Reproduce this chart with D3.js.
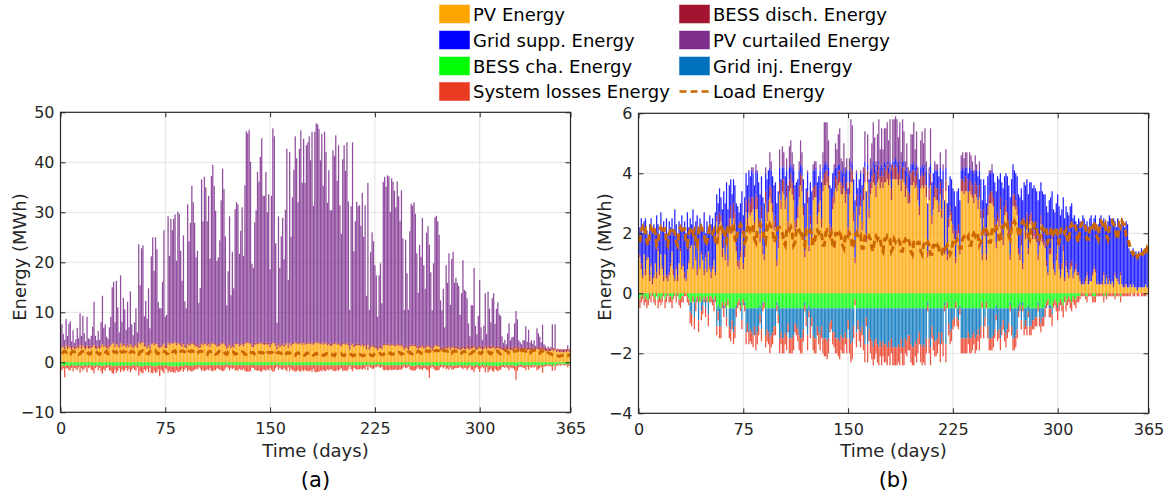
<!DOCTYPE html>
<html>
<head>
<meta charset="utf-8">
<script src="https://cdn.jsdelivr.net/npm/d3@7"></script>
<style>
  body { margin: 0; background: #fff; }
  svg { font-family: "DejaVu Sans", Verdana, sans-serif; }
</style>
</head>
<body>
<svg id="chart" width="1173" height="494"></svg>
<script>
// Daily energy balance over one year. All series are stored in steps of 0.1 MWh.
const UNIT = 0.1;
const days = d3.range(1, 366);

const xTicks = [0, 75, 150, 225, 300, 365];
const aYTicks = [-10, 0, 10, 20, 30, 40, 50];
const bYTicks = [-4, -2, 0, 2, 4, 6];

// Load demand (same for both systems)
const loadE = [
17,21,22,20,21,17,16,20,22,21, 22,20,16,17,21,22,21,20,22,17, 16,20,21,22,21,20,17,16,21,22,
21,20,22,17,16,20,21,22,20,21, 17,16,21,20,22,21,20,16,17,20, 22,21,20,21,17,16,21,22,23,21,
22,18,17,22,23,21,22,23,18,17, 21,22,23,22,21,17,18,22,23,21, 22,23,18,17,21,22,23,22,21,18,
17,22,21,23,22,21,17,18,21,22, 22,21,20,17,16,21,22,21,22,20, 16,17,21,22,21,20,21,17,16,21,
21,20,21,20,16,17,20,21,20,21, 20,16,16,20,21,20,19,20,16,15, 20,20,19,20,19,16,15,19,20,19,
20,19,15,16,19,20,19,18,19,15, 15,19,19,18,19,18,15,14,18,19, 18,19,18,15,14,18,18,19,18,18,
14,15,18,17,18,18,17,14,14,17, 18,17,18,17,14,13,17,17,16,17, 17,14,13,16,17,16,17,16,13,13,
16,16,15,16,15,13,13,15,16,15, 16,15,13,14,17,18,17,18,17,15, 15,18,19,19,18,19,16,16,19,20,
19,20,19,16,17,20,21,20,21,20, 17,17,21,22,21,22,21,18,17,22, 22,23,22,23,19,18,22,23,24,23,
23,19,19,23,24,23,22,23,19,18, 22,23,22,23,22,18,18,21,22,21, 22,21,17,18,21,22,20,21,22,18,
17,21,22,21,20,21,18,17,22,23, 22,23,22,18,17,22,23,24,23,22, 18,18,22,23,22,23,24,19,18,23,
24,23,22,23,19,18,22,23,24,23, 22,19,18,23,22,24,23,23,19,18, 17,15,14,13,14,13,12,13,14,13,
13,14,13,15,14];

// ---- System (a) ----
const aPV = [
28,30,26,33,27,31,29,25,30,27, 26,31,28,34,27,33,29,26,32,28, 27,29,31,35,28,26,30,27,31,36,
30,32,28,27,31,33,37,38,30,36, 33,29,38,31,35,33,29,34,30,36, 31,28,32,34,29,40,36,39,40,32,
32,28,34,27,36,38,34,37,36,30, 29,30,33,38,28,29,39,35,38,37, 38,39,34,38,37,34,31,36,30,28,
36,33,35,37,36,34,31,32,28,30, 37,34,37,36,33,36,31,37,38,36, 35,31,32,33,36,38,37,33,27,30,
35,28,32,29,36,36,37,32,34,36, 32,37,39,39,38,37,31,30,35,36, 37,37,38,38,36,35,37,35,36,30,
36,39,38,33,26,35,30,33,35,31, 35,38,29,38,33,36,37,39,38,36, 37,38,35,38,35,37,37,38,36,38,
35,38,39,39,38,36,38,35,38,37, 34,36,33,33,37,36,38,35,37,33, 32,36,37,35,37,34,25,34,37,30,
33,34,34,34,32,35,31,34,26,35, 25,30,32,31,29,28,24,28,29,26, 34,35,34,35,35,32,35,34,33,32,
35,34,32,34,30,25,30,28,25,31, 33,33,33,32,29,26,30,29,32,28, 27,31,32,30,28,24,29,33,33,32,
31,25,24,27,23,29,27,30,25,29, 30,27,28,27,27,24,26,29,26,26, 29,27,25,28,28,31,26,25,27,30,
27,25,27,30,26,30,28,27,29,30, 27,28,29,27,27,25,24,25,24,26, 27,24,25,25,27,28,27,24,24,24,
25,25,27,24,26,24,25,24,25,23, 27,26,25,24,27,24,23,22,23,22, 23,26,22,26,21,22,20,21,20,20,
21,20,23,21,21];
const aDisch = [
4,2,5,3,6,2,4,7,3,5, 6,3,5,2,6,3,4,7,2,5, 6,4,3,2,5,7,3,6,4,2,
4,3,6,7,4,3,2,2,5,3, 3,6,2,5,3,4,6,3,5,2, 4,6,4,3,6,2,3,2,3,5,
4,5,3,6,2,3,4,2,3,5, 5,4,3,2,6,5,2,3,2,3, 2,3,4,2,3,4,5,3,5,6,
3,4,3,2,3,4,5,4,6,5, 2,4,3,3,4,3,5,2,3,3, 3,5,4,4,3,2,3,4,6,5,
3,5,4,5,3,3,2,4,4,3, 4,3,2,2,3,3,5,5,4,3, 3,3,2,3,3,4,3,4,3,5,
3,2,3,4,6,3,5,4,3,4, 3,2,5,2,4,3,3,2,3,3, 3,2,3,2,3,3,2,3,3,2,
4,2,2,3,2,3,2,4,2,3, 4,3,4,4,3,3,2,3,3,4, 4,3,3,3,2,4,6,4,2,5,
4,3,4,3,4,3,5,3,6,3, 6,4,3,4,4,5,6,5,4,5, 3,2,3,2,3,4,2,3,3,4,
3,3,4,3,4,6,4,5,6,4, 3,3,3,4,4,6,4,5,3,5, 5,4,3,4,5,6,4,3,3,3,
3,5,6,5,6,4,5,4,5,4, 4,5,4,5,5,6,5,4,5,5, 5,6,6,5,5,4,6,6,5,4,
6,6,5,4,6,4,5,6,5,4, 5,5,4,5,5,6,5,6,5,5, 4,6,5,5,4,4,5,6,6,5,
5,5,4,6,5,5,5,6,5,6, 4,5,5,6,4,5,6,6,5,6, 5,3,6,3,5,5,6,5,6,6,
5,6,4,5,5];
const aCurt = [
44,25,14,51,20,44,49,10,31,7, 14,35,15,62,20,57,25,9,57,15, 13,20,37,84,20,11,30,12,45,95,
35,41,17,13,35,55,111,121,45,124, 74,25,134,45,91,69,30,84,35,104, 41,20,44,71,25,194,115,187,191,55,
87,54,111,35,174,209,145,211,187,85, 74,74,125,224,57,61,251,175,247,224, 247,254,165,261,257,185,127,215,87,74,
277,205,241,314,281,241,174,187,85,114, 327,244,331,311,245,294,171,334,354,314, 265,167,174,207,285,347,307,215,81,147,
254,101,185,114,267,281,277,181,225,271, 177,314,421,417,424,361,161,154,241,265, 341,321,371,407,294,294,341,261,297,151,
294,427,411,201,47,254,154,215,251,171, 267,387,131,381,214,291,345,411,367,281, 387,424,321,407,321,394,401,411,365,421,
274,421,437,434,427,365,417,314,421,381, 281,345,267,267,384,374,414,325,394,277, 221,367,394,345,401,284,74,274,401,187,
245,284,274,277,237,301,215,277,101,321, 74,187,225,207,161,141,61,141,165,87, 324,334,314,337,334,265,331,324,307,274,
324,295,247,307,214,74,211,145,74,227, 281,277,284,261,185,107,201,177,254,161, 115,224,237,201,147,74,165,254,257,247,
221,94,74,115,41,161,127,184,85,174, 187,127,137,127,121,65,107,171,114,111, 94,45,21,81,81,154,41,25,61,131,
37,14,41,104,25,107,74,47,94,104, 45,74,87,64,61,21,10,14,7,27, 47,14,20,21,47,71,54,14,10,7,
14,14,41,11,34,10,14,7,14,4, 37,27,21,10,44,7,4,0,4,0, 3,47,1,47,0,0,0,0,0,0,
0,0,7,0,0];
const aCha = [
7,6,8,5,7,6,8,5,6,7, 6,7,5,8,6,7,6,5,8,6, 5,7,6,8,6,5,7,6,7,8,
6,7,5,5,7,6,8,8,6,8, 7,6,8,6,7,7,5,7,6,8, 7,5,6,7,5,8,7,8,8,6,
7,6,8,5,8,8,7,8,8,6, 6,6,7,8,5,6,8,7,8,8, 8,8,7,8,8,7,6,8,6,5,
7,6,7,7,7,6,6,6,5,6, 6,6,6,6,6,6,5,6,6,6, 6,5,5,6,6,6,6,5,4,5,
6,5,6,5,6,6,6,5,6,6, 5,6,6,6,6,6,5,5,6,6, 6,6,6,6,6,6,6,6,6,5,
6,6,6,5,4,6,5,6,6,5, 6,6,5,6,5,6,6,6,6,6, 6,6,6,6,6,6,6,6,6,6,
5,6,6,6,6,6,6,6,6,6, 6,6,6,6,6,6,6,6,6,6, 5,6,6,6,6,6,4,6,6,5,
6,6,6,6,6,6,5,6,4,6, 4,5,6,6,5,5,4,5,5,5, 6,6,6,6,6,6,6,6,6,6,
6,6,6,6,5,4,5,5,4,6, 7,7,7,7,6,5,6,6,7,6, 6,7,7,6,6,5,6,7,7,7,
7,5,5,6,5,7,6,7,5,7, 7,6,6,6,6,5,6,7,6,6, 7,6,5,7,7,8,6,5,6,8,
6,5,6,8,5,8,7,6,7,8, 6,7,8,7,7,5,5,6,5,6, 7,5,6,6,7,8,7,5,5,5,
6,6,7,5,7,5,6,5,6,5, 7,6,6,5,7,5,5,4,5,4, 5,7,4,7,4,4,3,4,3,3,
4,3,5,4,4];
const aLoss = [
9,6,22,7,5,10,8,6,12,4, 7,9,5,13,6,10,7,5,12,6, 5,8,10,14,6,4,9,5,11,15,
8,10,6,5,9,11,14,15,8,13, 10,6,12,8,11,9,6,10,7,12, 8,6,9,10,5,18,11,13,14,8,
10,7,12,6,13,14,10,13,12,8, 22,9,11,14,7,8,13,10,12,11, 12,13,9,12,11,10,7,11,8,6,
11,9,10,12,10,9,7,8,5,7, 11,9,12,10,8,10,7,11,12,10, 10,7,8,9,10,12,11,8,5,7,
10,6,8,6,10,10,11,8,9,10, 8,11,13,12,13,11,6,6,9,10, 11,10,12,13,9,9,11,8,10,6,
10,13,12,7,4,9,6,8,9,6, 9,12,5,12,8,10,11,13,12,9, 12,13,9,12,9,11,12,12,10,13,
8,13,14,13,13,10,12,9,12,11, 8,10,8,8,11,11,12,9,11,8, 7,11,11,10,12,8,4,8,12,6,
7,9,8,8,7,9,7,8,4,10, 4,6,7,7,5,5,3,5,6,4, 9,10,9,10,10,8,10,9,9,8,
10,9,8,9,7,4,7,6,4,8, 9,9,10,9,7,5,8,7,9,6, 6,8,9,25,6,4,7,9,9,9,
8,5,4,6,4,7,6,8,5,7, 8,6,6,5,5,4,5,7,5,5, 9,6,4,8,8,12,6,4,7,11,
6,4,6,12,5,12,9,7,10,11, 7,9,10,8,8,5,4,5,4,6, 9,5,6,6,9,27,10,5,4,4,
5,5,9,4,8,4,5,4,5,3, 9,8,6,4,14,4,3,3,3,3, 4,10,3,9,3,3,2,3,2,2,
3,2,5,3,3];

// ---- System (b) ----
const bPV = [
12,8,5,13,6,11,12,4,9,3, 5,10,5,14,6,13,8,4,13,5, 4,6,9,14,6,4,8,4,10,14,
8,9,5,4,8,10,15,16,8,16, 11,6,17,8,13,11,6,12,7,14, 8,5,8,11,6,24,17,23,24,12,
15,11,18,9,22,25,20,25,23,14, 9,8,12,20,8,12,27,22,27,26, 27,28,21,28,28,22,17,25,13,11,
30,24,27,32,30,27,21,22,9,15, 33,28,34,33,28,32,21,34,35,33, 31,21,22,25,32,36,34,26,12,19,
30,14,23,16,31,32,32,23,27,31, 22,34,36,36,37,35,20,19,28,30, 35,34,36,37,33,33,35,30,33,19,
33,37,37,24,10,29,19,26,29,21, 31,37,17,37,25,33,35,37,36,32, 37,38,35,37,35,37,37,38,36,38,
31,38,38,38,38,36,38,34,38,37, 32,35,30,30,36,36,37,35,36,31, 26,35,36,35,36,32,12,31,36,23,
28,32,31,31,27,33,25,31,13,34, 11,22,26,24,20,18,10,18,20,13, 34,34,33,34,34,30,34,33,32,30,
33,32,28,32,25,11,25,19,11,26, 30,30,30,29,22,15,24,22,28,20, 16,26,27,24,19,11,21,29,29,28,
26,13,11,16,8,22,18,24,13,23, 24,18,19,18,17,11,16,23,17,16, 15,9,6,13,13,18,8,6,11,16,
8,5,8,14,4,9,7,5,8,9, 5,7,8,6,6,4,3,3,3,4, 6,3,4,4,6,8,7,3,3,3,
3,3,6,3,5,3,4,3,4,2, 6,5,4,3,6,3,2,2,3,2, 2,3,2,3,2,2,1,2,2,2,
2,2,3,2,2];
const bDisch = [
1,2,1,0,2,1,0,2,1,2, 1,0,2,1,2,0,1,2,0,1, 2,1,1,0,2,1,1,2,0,1,
1,1,2,1,0,1,1,0,1,1, 1,2,0,1,1,0,2,1,1,0, 1,2,1,0,1,2,3,4,2,3,
3,2,4,2,3,4,3,5,4,2, 2,3,2,3,2,3,4,3,5,4, 5,4,3,5,4,3,3,4,3,2,
4,3,4,4,5,3,3,4,2,3, 4,3,4,5,3,4,3,4,5,4, 4,3,3,4,4,4,5,3,2,3,
4,2,3,3,4,4,4,3,3,4, 3,4,4,5,4,4,3,3,4,4, 4,4,5,4,4,3,4,4,4,3,
4,5,4,3,2,4,3,3,4,3, 4,5,3,4,3,4,4,5,4,4, 4,5,4,4,4,5,4,5,4,4,
4,5,4,5,4,4,5,4,4,5, 4,4,4,3,4,5,4,4,5,4, 3,4,4,4,5,4,2,4,4,3,
4,4,4,4,3,4,3,4,2,4, 2,3,3,3,3,3,2,3,3,2, 4,4,4,5,4,4,4,4,4,3,
4,4,3,4,3,2,3,3,2,3, 3,4,4,3,3,2,3,3,4,3, 3,3,4,3,3,2,3,4,4,3,
3,2,2,3,2,3,3,3,2,3, 3,3,3,2,3,2,3,3,3,2, 2,2,1,2,2,3,2,1,2,3,
2,1,2,2,1,2,1,1,2,2, 1,1,2,1,1,1,0,1,0,1, 1,0,1,0,1,1,1,0,1,0,
0,1,1,0,1,0,1,0,0,1, 1,0,1,0,1,0,0,1,0,0, 0,0,0,0,0,0,0,0,0,0,
0,0,0,0,0];
const bSupp = [
9,15,14,11,17,9,6,17,15,15, 17,11,19,8,11,14,13,18,7,19, 14,17,12,11,13,23,14,13,14,7,
17,12,17,15,19,11,9,7,19,4, 12,18,5,16,9,10,19,7,16,8, 17,16,16,10,20,7,10,8,6,13,
16,17,15,17,11,9,10,8,9,14, 18,16,16,11,16,17,9,11,9,9, 9,8,12,8,8,12,13,10,16,17,
6,11,10,6,6,9,12,11,19,16, 5,7,4,4,8,5,12,4,3,5, 6,12,12,9,5,3,3,9,16,13,
6,16,11,15,6,5,6,11,9,6, 12,4,3,3,2,3,13,13,8,7, 3,4,2,2,4,4,3,6,4,13,
4,2,2,11,19,7,13,9,7,12, 5,2,14,2,10,4,3,2,3,5, 2,1,3,2,3,2,2,1,2,2,
6,1,2,2,2,3,1,4,2,2, 5,3,6,6,3,2,3,3,2,5, 9,3,3,3,2,5,16,5,3,11,
8,5,6,6,9,5,10,6,16,4, 17,11,10,11,12,13,17,13,12,16, 3,4,4,3,4,6,4,4,5,7,
4,5,8,5,10,18,10,14,17,10, 7,6,7,8,12,17,12,13,8,14, 16,10,9,12,14,19,14,10,8,9,
10,18,19,16,21,12,15,11,18,11, 10,14,14,15,14,18,15,11,14,15, 16,18,20,16,17,13,18,20,17,14,
19,20,18,16,20,18,19,20,19,19, 19,18,14,16,18,19,19,22,22,18, 17,19,20,22,16,16,18,18,19,22,
23,20,18,20,16,21,21,22,19,22, 17,17,20,21,16,22,22,19,21,21, 13,11,11,12,11,12,11,12,11,13,
12,11,12,12,11];
const bCurt = [
0,0,0,0,0,0,0,0,0,0, 0,0,0,0,0,0,0,0,0,0, 0,0,0,0,0,0,0,0,0,0,
0,0,0,0,0,0,0,0,0,0, 0,0,0,0,0,0,0,0,0,0, 0,0,0,0,0,0,0,0,0,0,
0,0,0,0,0,0,0,0,0,0, 0,0,0,0,0,0,0,0,0,0, 1,2,0,2,1,0,0,0,0,0,
2,0,0,5,3,0,0,0,0,0, 6,0,7,5,0,4,0,7,8,5, 2,0,0,0,3,8,5,0,0,0,
1,0,0,0,2,3,2,0,0,2, 0,5,14,13,14,9,0,0,0,2, 8,6,10,12,4,4,8,2,4,0,
4,14,13,0,0,1,0,0,1,0, 2,10,0,10,0,4,8,13,9,3, 10,14,6,12,6,11,12,13,9,14,
2,14,14,14,14,9,13,5,14,10, 3,8,2,2,10,10,13,6,11,2, 0,9,11,8,12,3,0,2,12,0,
0,3,2,2,0,5,0,2,0,6, 0,0,0,0,0,0,0,0,0,0, 5,5,4,5,5,0,5,5,3,1,
5,2,0,3,0,0,0,0,0,0, 1,1,2,0,0,0,0,0,0,0, 0,0,0,0,0,0,0,0,0,0,
0,0,0,0,0,0,0,0,0,0, 0,0,0,0,0,0,0,0,0,0, 0,0,0,0,0,0,0,0,0,0,
0,0,0,0,0,0,0,0,0,0, 0,0,0,0,0,0,0,0,0,0, 0,0,0,0,0,0,0,0,0,0,
0,0,0,0,0,0,0,0,0,0, 0,0,0,0,0,0,0,0,0,0, 0,0,0,0,0,0,0,0,0,0,
0,0,0,0,0];
const bCha = [
2,1,0,2,1,2,2,0,1,0, 1,2,0,2,1,2,1,0,2,1, 0,1,1,2,1,0,1,0,2,2,
1,1,0,0,1,2,3,3,1,3, 2,1,3,1,3,2,1,2,1,3, 1,1,2,2,1,5,4,5,5,3,
4,3,5,2,5,5,5,5,5,4, 3,2,3,5,2,3,5,5,5,5, 5,5,5,5,5,5,4,5,3,3,
5,5,5,5,5,5,5,5,3,4, 5,5,5,5,5,5,5,5,5,5, 5,5,5,5,5,5,5,5,3,5,
5,4,5,5,5,5,5,5,5,5, 5,5,5,5,5,5,5,5,5,5, 5,5,5,5,5,5,5,5,5,5,
5,5,5,5,2,5,5,5,5,5, 5,5,5,5,5,5,5,5,5,5, 5,5,5,5,5,5,5,5,5,5,
5,5,5,5,5,5,5,5,5,5, 5,5,5,5,5,5,5,5,5,5, 5,5,5,5,5,5,3,5,5,5,
5,5,5,5,5,5,5,5,3,5, 3,5,5,5,5,5,3,5,5,4, 5,5,5,5,5,5,5,5,5,5,
5,5,5,5,5,3,5,5,3,5, 5,5,5,5,5,4,5,5,5,5, 5,5,5,5,5,3,5,5,5,5,
5,4,3,5,3,5,5,5,4,5, 5,5,5,5,5,3,5,5,5,5, 4,3,2,4,4,5,3,2,3,4,
3,2,3,4,1,3,2,1,2,3, 1,2,2,1,1,1,0,0,0,1, 1,0,0,0,1,1,1,0,0,0,
0,0,1,0,1,0,0,0,0,0, 1,0,0,0,1,0,0,0,0,0, 0,0,0,0,0,0,0,0,0,0,
0,0,0,0,0];
const bInj = [
0,0,0,0,0,0,0,0,0,0, 0,0,0,0,0,0,0,0,0,0, 0,0,0,0,0,0,0,0,0,0,
0,0,0,0,0,0,3,4,0,5, 1,0,6,0,3,2,0,3,0,4, 0,0,0,1,0,6,2,6,6,0,
1,0,3,0,6,7,4,8,6,1, 0,0,1,4,0,1,8,5,8,7, 8,9,6,9,8,6,3,7,1,0,
9,7,8,10,9,8,6,6,1,3, 10,8,10,10,8,9,5,10,10,10, 9,5,6,7,9,10,10,7,1,3,
9,2,6,3,9,10,10,6,8,9, 6,10,10,10,11,10,5,4,8,8, 10,10,10,11,9,10,10,8,10,4,
10,12,11,6,0,8,4,7,8,6, 9,12,3,12,7,10,11,13,11,10, 12,13,11,13,11,12,12,13,11,13,
10,13,13,13,13,12,13,10,13,13, 10,11,9,9,12,13,13,11,12,10, 8,12,13,12,13,10,1,10,13,6,
9,11,11,10,8,12,8,11,1,12, 0,5,8,7,4,3,0,3,4,1, 10,10,10,10,10,8,10,10,9,8,
10,9,7,9,6,0,6,3,0,6, 10,10,10,9,7,3,8,7,10,6, 4,8,9,7,5,1,6,10,10,9,
7,2,1,4,1,6,4,6,2,6, 6,4,4,3,3,1,3,5,3,3, 1,0,0,1,1,2,0,0,0,1,
0,0,0,0,0,0,0,0,0,0, 0,0,0,0,0,0,0,0,0,0, 0,0,0,0,0,0,0,0,0,0,
0,0,0,0,0,0,0,0,0,0, 0,0,0,0,0,0,0,0,0,0, 0,0,0,0,0,0,0,0,0,0,
0,0,0,0,0];
const bLoss = [
3,2,2,2,2,3,2,2,2,1, 2,2,1,3,2,2,2,1,3,2, 1,2,2,3,1,1,2,1,2,3,
2,2,1,1,2,2,4,4,2,4, 3,2,4,2,3,3,2,3,2,4, 2,2,2,3,2,3,3,4,4,2,
3,2,3,2,4,4,3,4,4,3, 2,2,2,3,2,2,4,3,4,4, 4,4,3,5,4,3,3,4,2,2,
4,4,4,5,4,4,3,3,2,3, 5,4,5,5,4,5,3,5,5,5, 5,3,3,4,5,5,5,4,2,3,
5,2,4,3,5,5,5,3,4,5, 4,5,6,6,6,5,3,3,4,5, 5,5,6,6,5,5,5,4,5,3,
5,6,6,4,2,5,3,4,5,3, 5,6,3,6,4,5,6,6,6,5, 6,6,5,6,5,6,6,6,5,6,
5,6,6,6,6,6,6,5,6,6, 5,5,5,5,6,6,6,5,6,5, 4,6,6,6,6,5,2,5,6,4,
5,5,5,5,4,6,4,5,2,6, 2,4,4,4,3,3,2,3,3,2, 5,5,5,5,5,4,5,5,5,4,
5,5,4,5,4,2,4,3,2,4, 4,4,4,4,3,2,3,3,4,3, 3,3,4,3,3,2,3,4,4,4,
3,2,2,3,2,3,3,3,2,3, 3,3,3,3,3,2,3,3,3,3, 3,2,2,3,3,4,2,2,3,4,
3,2,3,4,2,3,2,2,3,3, 2,2,3,2,2,1,1,1,1,1, 2,1,1,1,2,2,2,1,1,1,
1,1,2,1,1,1,1,1,1,1, 1,1,1,1,2,1,1,1,1,1, 1,1,0,1,1,0,1,1,0,1,
1,1,1,0,1];

const colors = {
  pv: "#FFA500", supp: "#0000FF", cha: "#00FF00", loss: "#EA3A22",
  disch: "#A2142F", curt: "#7E2F8E", inj: "#0072BD", load: "#CC6600"
};

const legendLeft = [
  { label: "PV Energy", color: colors.pv },
  { label: "Grid supp. Energy", color: colors.supp },
  { label: "BESS cha. Energy", color: colors.cha },
  { label: "System losses Energy", color: colors.loss }
];
const legendRight = [
  { label: "BESS disch. Energy", color: colors.disch },
  { label: "PV curtailed Energy", color: colors.curt },
  { label: "Grid inj. Energy", color: colors.inj },
  { label: "Load Energy", color: colors.load, line: true }
];

const svg = d3.select("#chart");
const ink = "#262626";

function drawPanel(cfg) {
  const { id, x0, x1, y0, y1, yDomain, yTicks, series, tag } = cfg;
  const x = d3.scaleLinear().domain([0, 365]).range([x0, x1]);
  const y = d3.scaleLinear().domain(yDomain).range([y1, y0]);
  const g = svg.append("g");

  g.append("clipPath").attr("id", "clip-" + id)
    .append("rect").attr("x", x0).attr("y", y0).attr("width", x1 - x0).attr("height", y1 - y0);

  // grid
  const grid = g.append("g").attr("stroke", "#e3e3e3").attr("stroke-width", 1);
  grid.selectAll(".gx").data(xTicks.filter(t => t > 0 && t < 365)).join("line")
    .attr("x1", d => x(d)).attr("x2", d => x(d)).attr("y1", y0).attr("y2", y1);
  grid.selectAll(".gy").data(yTicks.slice(1, -1)).join("line")
    .attr("x1", x0).attr("x2", x1).attr("y1", d => y(d)).attr("y2", d => y(d));

  // stacked bars: sources upwards, sinks downwards
  const rows = days.map((d, i) => {
    const r = { day: d };
    series.forEach(s => { r[s.key] = s.sign * s.values[i] * UNIT; });
    return r;
  });
  const layers = d3.stack().keys(series.map(s => s.key)).offset(d3.stackOffsetDiverging)(rows);
  const bw = (x(1) - x(0)) * 0.9;
  const bars = g.append("g").attr("clip-path", `url(#clip-${id})`);
  layers.forEach((layer, k) => {
    bars.append("g").attr("fill", series[k].color).attr("fill-opacity", 0.86)
      .selectAll("rect").data(layer.filter(d => d[1] !== d[0])).join("rect")
      .attr("x", d => x(d.data.day) - bw / 2)
      .attr("width", bw)
      .attr("y", d => y(Math.max(d[0], d[1])))
      .attr("height", d => Math.abs(y(d[0]) - y(d[1])));
  });

  // load line
  const line = d3.line().x((d, i) => x(days[i])).y(d => y(d * UNIT));
  bars.append("path").datum(loadE).attr("d", line)
    .attr("fill", "none").attr("stroke", colors.load).attr("stroke-width", 3)
    .attr("stroke-dasharray", "7,4");

  // axes with inward ticks on all four sides
  const fmt = d3.format("d");
  const bottom = g.append("g").attr("transform", `translate(0,${y1})`)
    .call(d3.axisBottom(x).tickValues(xTicks).tickSize(-5).tickPadding(10).tickFormat(fmt));
  const top = g.append("g").attr("transform", `translate(0,${y0})`)
    .call(d3.axisTop(x).tickValues(xTicks).tickSize(-5).tickFormat(""));
  const left = g.append("g").attr("transform", `translate(${x0},0)`)
    .call(d3.axisLeft(y).tickValues(yTicks).tickSize(-5).tickPadding(6).tickFormat(fmt));
  const right = g.append("g").attr("transform", `translate(${x1},0)`)
    .call(d3.axisRight(y).tickValues(yTicks).tickSize(-5).tickFormat(""));
  [bottom, top, left, right].forEach(a => {
    a.select(".domain").remove();
    a.selectAll("line").attr("stroke", ink);
    a.selectAll("text").attr("fill", ink).style("font-size", "16px")
      .style("font-family", '"DejaVu Sans", Verdana, sans-serif');
  });

  g.append("rect").attr("x", x0).attr("y", y0).attr("width", x1 - x0).attr("height", y1 - y0)
    .attr("fill", "none").attr("stroke", ink).attr("stroke-width", 1.2);

  // titles
  g.append("text").attr("x", (x0 + x1) / 2).attr("y", 457).attr("text-anchor", "middle")
    .attr("fill", ink).style("font-size", "18px").text("Time (days)");
  g.append("text").attr("transform", `translate(${cfg.yTitleX},257) rotate(-90)`)
    .attr("text-anchor", "middle").attr("fill", ink).style("font-size", "18px").text("Energy (MWh)");
  g.append("text").attr("x", (x0 + x1) / 2).attr("y", 487).attr("text-anchor", "middle")
    .attr("fill", "#000").style("font-size", "21px").text(tag);
}

drawPanel({
  id: "a", x0: 60.5, x1: 570.5, y0: 112.3, y1: 412.3, yDomain: [-10, 50], yTicks: aYTicks,
  yTitleX: 26, tag: "(a)",
  series: [
    { key: "pv", values: aPV, sign: 1, color: colors.pv },
    { key: "disch", values: aDisch, sign: 1, color: colors.disch },
    { key: "curt", values: aCurt, sign: 1, color: colors.curt },
    { key: "cha", values: aCha, sign: -1, color: colors.cha },
    { key: "loss", values: aLoss, sign: -1, color: colors.loss }
  ]
});

drawPanel({
  id: "b", x0: 638.5, x1: 1148.5, y0: 113.3, y1: 413.3, yDomain: [-4, 6], yTicks: bYTicks,
  yTitleX: 611, tag: "(b)",
  series: [
    { key: "pv", values: bPV, sign: 1, color: colors.pv },
    { key: "disch", values: bDisch, sign: 1, color: colors.disch },
    { key: "supp", values: bSupp, sign: 1, color: colors.supp },
    { key: "curt", values: bCurt, sign: 1, color: colors.curt },
    { key: "cha", values: bCha, sign: -1, color: colors.cha },
    { key: "inj", values: bInj, sign: -1, color: colors.inj },
    { key: "loss", values: bLoss, sign: -1, color: colors.loss }
  ]
});

// legend
const legend = svg.append("g").style("font-size", "18px");
const rowY = [14, 40, 66, 91.5];
function legendColumn(items, sx, tx) {
  items.forEach((it, i) => {
    const cy = rowY[i];
    if (it.line) {
      legend.append("line").attr("x1", sx).attr("x2", sx + 30).attr("y1", cy).attr("y2", cy)
        .attr("stroke", it.color).attr("stroke-width", 2.6).attr("stroke-dasharray", "7,4");
    } else {
      legend.append("rect").attr("x", sx).attr("y", cy - 9).attr("width", 30).attr("height", 18)
        .attr("fill", it.color).attr("stroke", it.color).attr("stroke-opacity", 0.5);
    }
    legend.append("text").attr("x", tx).attr("y", cy + 6.5).attr("fill", "#000").text(it.label);
  });
}
legendColumn(legendLeft, 439.5, 473);
legendColumn(legendRight, 679.5, 713);
</script>
</body>
</html>
